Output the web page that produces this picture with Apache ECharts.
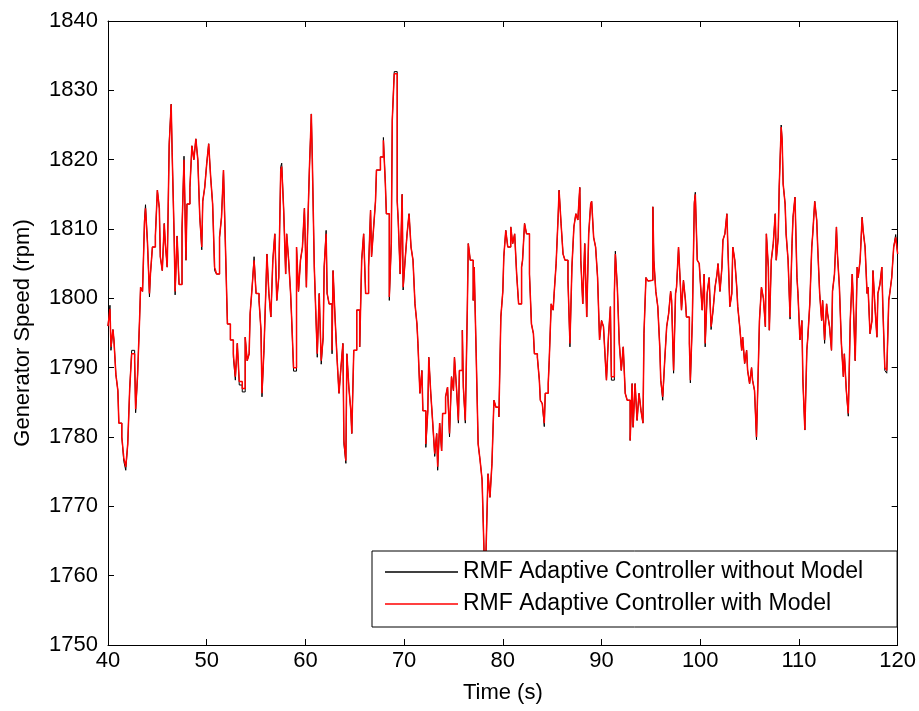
<!DOCTYPE html>
<html>
<head>
<meta charset="utf-8">
<script src="https://cdn.jsdelivr.net/npm/echarts@6/dist/echarts.min.js"></script>
<style>
html,body{margin:0;padding:0;background:#fff;}
#chart{width:919px;height:711px;}
</style>
</head>
<body>
<div id="chart"></div>
<script>
const xTicks = [40, 50, 60, 70, 80, 90, 100, 110, 120];
const yTicks = [1750, 1760, 1770, 1780, 1790, 1800, 1810, 1820, 1830, 1840];
const seriesNames = ['RMF Adaptive Controller without Model', 'RMF Adaptive Controller with Model'];

const time = [
40.0,40.2,40.3,40.5,40.6,40.8,41.0,41.1,41.4,41.6,41.8,42.0,42.2,42.4,42.7,42.8,43.0,43.2,43.3,43.5,
43.7,43.8,44.0,44.2,44.3,44.5,44.8,45.0,45.2,45.3,45.5,45.7,45.8,46.0,46.2,46.4,46.5,46.7,46.8,47.0,
47.2,47.5,47.7,47.9,48.0,48.3,48.5,48.7,48.9,49.1,49.3,49.5,49.6,49.8,50.0,50.2,50.4,50.6,50.8,51.0,
51.3,51.5,51.7,51.9,52.1,52.4,52.7,52.9,53.1,53.3,53.6,53.9,54.1,54.3,54.4,54.6,54.8,55.0,55.3,55.5,
55.6,55.8,56.0,56.1,56.3,56.5,56.7,56.9,57.1,57.3,57.5,57.6,57.8,58.0,58.1,58.3,58.5,58.6,58.8,59.1,
59.3,59.5,59.7,59.9,60.1,60.2,60.4,60.6,60.7,60.9,61.1,61.2,61.4,61.6,61.8,61.9,62.1,62.2,62.4,62.7,
62.8,63.0,63.2,63.4,63.6,63.8,63.9,64.1,64.2,64.4,64.6,64.7,64.9,65.2,65.5,65.7,65.9,66.1,66.4,66.6,
66.7,66.9,67.1,67.2,67.6,67.9,68.1,68.2,68.5,68.7,68.8,69.0,69.3,69.4,69.6,69.8,69.9,70.1,70.3,70.5,
70.7,70.9,71.1,71.3,71.4,71.6,71.8,71.9,72.2,72.4,72.5,72.7,72.9,73.1,73.3,73.4,73.6,73.8,73.9,74.2,
74.4,74.6,74.8,75.0,75.1,75.3,75.5,75.6,75.9,76.0,76.2,76.4,76.5,76.7,77.0,77.1,77.3,77.5,77.7,77.9,
78.1,78.3,78.5,78.7,78.9,79.1,79.3,79.6,79.8,80.0,80.1,80.3,80.5,80.8,81.0,81.2,81.4,81.6,81.9,82.0,
82.2,82.4,82.7,82.9,83.1,83.2,83.5,83.7,83.8,84.0,84.2,84.3,84.6,84.7,84.9,85.1,85.2,85.4,85.6,85.7,
85.9,86.1,86.3,86.6,86.8,87.0,87.2,87.4,87.6,87.8,87.9,88.1,88.3,88.5,88.7,88.9,89.0,89.2,89.4,89.6,
89.8,90.0,90.2,90.4,90.5,90.7,90.9,91.0,91.3,91.4,91.6,91.8,92.0,92.2,92.4,92.6,92.9,93.1,93.2,93.4,
93.6,93.8,94.0,94.2,94.3,94.5,94.7,94.9,95.2,95.3,95.5,95.7,95.9,96.0,96.2,96.4,96.6,96.8,97.0,97.1,
97.3,97.5,97.6,97.8,98.0,98.1,98.3,98.5,98.6,98.9,99.0,99.2,99.4,99.5,99.7,99.9,100.0,100.2,100.4,100.5,
100.7,100.9,101.1,101.3,101.5,101.7,101.8,102.0,102.2,102.3,102.5,102.7,102.8,103.0,103.2,103.3,103.5,103.7,103.8,104.0,
104.2,104.3,104.5,104.7,104.8,105.0,105.2,105.3,105.5,105.7,105.9,106.0,106.2,106.4,106.6,106.7,106.9,107.0,107.2,107.4,
107.6,107.7,107.9,108.0,108.2,108.3,108.4,108.6,108.7,108.9,109.1,109.3,109.4,109.6,109.8,109.9,110.1,110.3,110.4,110.6,
110.8,110.9,111.1,111.3,111.4,111.6,111.8,111.9,112.1,112.3,112.4,112.6,112.8,112.9,113.1,113.3,113.4,113.6,113.8,113.9,
114.1,114.3,114.5,114.6,114.8,115.0,115.2,115.4,115.5,115.7,115.9,116.0,116.2,116.4,116.5,116.7,116.9,117.0,117.2,117.4,
117.5,117.7,117.9,118.0,118.2,118.4,118.5,118.7,118.9,119.1,119.2,119.4,119.6,119.8,120.0
];

const withModel = [
1796,1798.5,1793,1795.5,1794,1789,1786.7,1782,1780,1777,1775.7,1779,1787,1792,1791,1784,1789,1797,1801.6,1801,
1811,1813,1808,1800.7,1803.5,1807.4,1809,1815.6,1813,1806,1804,1810.8,1808,1804.5,1822,1828,1821,1809,1801,1809,
1802,1810,1820,1805.5,1813.6,1816,1822,1820,1823,1820,1811.7,1807.4,1814,1816,1819.4,1822.3,1817.5,1813.6,1804.5,1803.5,
1808.8,1811.7,1818.5,1807.4,1796.3,1794,1792,1788.7,1793.5,1788,1787,1794.4,1791,1792,1797.8,1801.6,1805.5,1800.7,1799.7,1795.4,
1786.3,1792.5,1801.6,1806.4,1800.7,1797.3,1805.5,1809.3,1799.7,1803,1818.5,1819,1812.7,1803.5,1809.3,1805.5,1800.7,1797.3,1790,1807.4,
1801,1805.5,1807.4,1813,1801.6,1808.4,1818.5,1826.6,1820,1804.5,1795.9,1792,1800.7,1791,1794.4,1804.5,1809.3,1800.7,1799.2,1792.5,
1804,1797.3,1791.5,1786.3,1790,1793.5,1779.5,1776.6,1792,1787.2,1783.8,1780.5,1792.5,1798.3,1793,1805.5,1809.3,1800.7,1804.5,1812.7,
1806,1810,1814,1818.5,1820.4,1822.8,1816.5,1812.2,1800.2,1807.9,1825.7,1832.4,1814,1811.3,1803.5,1815,1801.6,1805.5,1809.3,1812.2,
1807.4,1805.5,1799.2,1796.3,1793.5,1786.3,1789.6,1783.8,1779,1783.8,1791.5,1786.3,1782,1777.6,1780.5,1775.7,1782,1778,1783.4,1785.8,
1787.2,1780.5,1788.7,1786.7,1791.5,1787.2,1782.4,1789.6,1795.4,1787.2,1782.4,1798.3,1807.9,1805.5,1799.7,1804.5,1792,1779,1776.6,1773.8,
1763.2,1763.6,1774.7,1771.3,1776.2,1785.3,1784.3,1782.9,1797.3,1801,1806,1809.8,1807.4,1810.3,1807.9,1809.3,1803.5,1799.2,1804.5,1805.5,
1810.8,1809.3,1803.5,1796.3,1794.9,1792,1791.5,1788.2,1785.3,1784.8,1782,1786.3,1787.7,1791,1799.2,1798.3,1800.7,1805,1811.7,1815.6,
1810.8,1806.4,1805.5,1802.6,1793.5,1804.5,1810.3,1812.2,1811.3,1816,1805.5,1799.2,1807.9,1797.3,1809.3,1813.6,1814,1808.8,1807.4,1803,
1794,1796.8,1795.9,1790.6,1788.2,1794.4,1798.8,1788.7,1800.7,1806.4,1801.6,1793.5,1789.6,1793,1786.3,1785.3,1779.5,1787.7,1781.4,1787.7,
1782.4,1786.3,1783.8,1782,1794.9,1803,1802.5,1802.6,1813.2,1805.5,1801,1798.8,1793,1788.2,1785.8,1791,1795.9,1797.8,1801,1799.7,
1789.6,1800.7,1801.6,1807.4,1801.6,1798.3,1802.6,1799.7,1797.3,1793.5,1788.2,1796.8,1813.6,1815,1805.5,1805,1802.6,1798.3,1803.5,1793.5,
1800.7,1803,1795.9,1798.3,1801.6,1803.5,1805,1801,1804.5,1808.4,1809.3,1812.2,1807.4,1798.8,1800.7,1807.4,1805.5,1801.6,1798.8,1795.9,
1792.5,1794.4,1790.6,1792.5,1789.6,1787.7,1790,1788.2,1786.7,1780,1791,1796.8,1801.6,1800,1795.9,1809.3,1804.5,1795.4,1805.5,1807.9,
1812.2,1805.5,1808.8,1816,1824.7,1822.8,1816.5,1813.6,1809.3,1805.5,1797.3,1807.9,1811.7,1814.6,1803,1800.7,1794,1796.8,1788.2,1781,
1792.5,1794.4,1799.2,1807.4,1809.3,1814,1811.3,1807.4,1800.7,1796.8,1799.7,1794,1799.2,1797.8,1795.9,1792.5,1801,1803.5,1810.3,1806.4,
1801.6,1793.5,1788.7,1792,1786.7,1783.4,1796.8,1803.5,1799.7,1791,1804.5,1803,1805.5,1811.7,1809.8,1807.4,1800.7,1801.6,1794.9,1796.8,
1804,1798.8,1794.4,1800.7,1802,1804.5,1798.8,1790,1789.6,1799.7,1800.7,1803,1807.4,1808.8,1806.4
];

const withoutModel = [
1796,1799,1792.5,1795.5,1794,1789,1786.7,1782,1780,1776.5,1775.2,1779,1787,1792.5,1791,1783.5,1789,1797,1801.6,1801,
1811.5,1813.5,1808,1800.2,1803.5,1807.4,1809,1815.6,1813,1806,1804,1810.8,1808,1804.5,1822.5,1828,1821,1809,1800.5,1809,
1802,1810,1820.5,1805.5,1813.6,1816,1822,1820,1823,1820,1811.7,1807,1814,1816,1819.4,1822.3,1817.5,1813.6,1804,1803.5,
1808.8,1811.7,1818.5,1807.4,1796.3,1794,1791.5,1788.2,1793.5,1787.5,1786.5,1794.4,1791,1792,1797.8,1801.6,1806,1800.7,1799.7,1795.4,
1785.8,1792.5,1801.6,1806.4,1800.7,1797.3,1805.5,1809.3,1799.7,1803,1819,1819.5,1812.7,1803.5,1809.3,1805.5,1800.7,1797.3,1789.5,1807.4,
1801,1805.5,1807.4,1813,1801.6,1808.4,1818.5,1826.6,1820,1804.5,1795.9,1791.5,1800.7,1790.5,1794.4,1804.5,1809.8,1800.7,1799.2,1792,
1804,1797.3,1791.5,1786.3,1790,1793.5,1779,1776.2,1792,1787.2,1783.8,1780.5,1792.5,1798.3,1793,1805.5,1809.3,1800.7,1804.5,1812.7,
1806,1810,1814,1818.5,1820.4,1823.2,1816.5,1812.2,1799.7,1807.9,1825.7,1832.7,1814,1811.3,1803.5,1815,1801.2,1805.5,1809.3,1812.2,
1807.4,1805.5,1799.2,1796.3,1793.5,1786.3,1789.6,1783.8,1778.5,1783.8,1791.5,1786.3,1782,1777.2,1780.5,1775.2,1782,1778,1783.4,1785.8,
1787.2,1780,1788.7,1786.7,1791.5,1787.2,1782,1789.6,1795.4,1787.2,1782,1798.3,1807.9,1805.5,1799.7,1804.5,1792,1779,1776.6,1773.8,
1763.2,1763.6,1774.7,1771.3,1776.2,1785.3,1784.3,1782.9,1797.3,1801,1806,1809.8,1807.4,1810.3,1807.9,1809.3,1803.5,1799.2,1804.5,1805.5,
1810.8,1809.3,1803.5,1796.3,1794.9,1792,1791.5,1788.2,1785.3,1784.8,1781.5,1786.3,1787.7,1791,1799.2,1798.3,1800.7,1805,1811.7,1815.6,
1810.8,1806.4,1805.5,1802.6,1793,1804.5,1810.3,1812.2,1811.3,1816,1805.5,1799.2,1807.9,1797.3,1809.3,1813.6,1814,1808.8,1807.4,1803,
1794,1796.8,1795.9,1790.6,1788.2,1794.4,1798.8,1788.2,1800.7,1806.8,1801.6,1793.5,1789.6,1793,1786.3,1785.3,1779.5,1787.7,1781.4,1787.7,
1782.4,1786.3,1783.8,1782,1794.9,1803,1802.5,1802.6,1813.2,1805.5,1801,1798.8,1793,1788.2,1785.3,1791,1795.9,1797.8,1801,1799.7,
1789.2,1800.7,1801.6,1807.4,1801.6,1798.3,1802.6,1799.7,1797.3,1793.5,1787.8,1796.8,1813.9,1815.3,1805.5,1805,1802.6,1798.3,1803.5,1793,
1800.7,1803,1795.5,1798.3,1801.6,1803.5,1805,1801,1804.5,1808.4,1809.3,1812.2,1807.4,1798.8,1800.7,1807.4,1805.5,1801.6,1798.8,1795.9,
1792.5,1794.4,1790.6,1792.5,1789.6,1787.7,1790,1788.2,1786.7,1779.6,1791,1796.8,1801.6,1800,1795.9,1809.3,1804.5,1795.4,1805.5,1807.9,
1812.2,1805.5,1808.8,1816,1825,1822.8,1816.5,1813.6,1809.3,1805.5,1797,1807.9,1811.7,1814.6,1803,1800.7,1794,1796.8,1788.2,1781,
1792.5,1794.4,1799.2,1807.4,1809.3,1814,1811.3,1807.4,1800.7,1796.8,1799.7,1793.5,1799.2,1797.8,1795.9,1792.5,1801,1803.5,1810.3,1806.4,
1801.6,1793.5,1788.7,1792,1786.7,1783,1796.8,1803.5,1799.7,1791,1804.5,1803,1805.5,1811.7,1809.8,1807.4,1800.7,1801.6,1794.9,1796.8,
1804,1798.8,1794.4,1800.7,1802,1804.5,1798.8,1789.6,1789.2,1799.7,1800.7,1803,1807.4,1809.2,1806.4
];

const FONT = '"Liberation Sans", Arial, sans-serif';
const chart = echarts.init(document.getElementById('chart'), null, {renderer: 'canvas'});

const tickCommon = {show: true, inside: true, length: 6, lineStyle: {color: '#000', width: 1}};
const lineCommon = {show: true, onZero: false, lineStyle: {color: '#000', width: 1}};
const plain = v => String(v);

chart.setOption({
  animation: false,
  backgroundColor: '#fff',
  grid: {left: 108, right: 17, top: 21, bottom: 66, containLabel: false},
  xAxis: [{
    type: 'value', min: xTicks[0], max: xTicks[xTicks.length - 1], interval: 10,
    position: 'bottom',
    name: 'Time (s)', nameLocation: 'middle', nameGap: 37,
    nameTextStyle: {fontFamily: FONT, fontSize: 22, color: '#000'},
    axisLine: lineCommon, axisTick: tickCommon,
    axisLabel: {fontFamily: FONT, fontSize: 22, color: '#000', margin: 5, formatter: plain},
    splitLine: {show: false}
  }, {
    type: 'value', min: xTicks[0], max: xTicks[xTicks.length - 1], interval: 10,
    position: 'top',
    axisLine: lineCommon, axisTick: tickCommon,
    axisLabel: {show: false}, splitLine: {show: false}
  }],
  yAxis: [{
    type: 'value', min: yTicks[0], max: yTicks[yTicks.length - 1], interval: 10,
    position: 'left',
    name: 'Generator Speed (rpm)', nameLocation: 'middle', nameGap: 74,
    nameTextStyle: {fontFamily: FONT, fontSize: 22, color: '#000'},
    axisLine: lineCommon, axisTick: tickCommon,
    axisLabel: {fontFamily: FONT, fontSize: 22, color: '#000', margin: 10, formatter: plain},
    splitLine: {show: false}
  }, {
    type: 'value', min: yTicks[0], max: yTicks[yTicks.length - 1], interval: 10,
    position: 'right',
    axisLine: lineCommon, axisTick: tickCommon,
    axisLabel: {show: false}, splitLine: {show: false}
  }],
  legend: {
    orient: 'vertical',
    left: 372, top: 551,
    padding: [9, 34, 11, 13],
    icon: 'rect',
    itemWidth: 73, itemHeight: 1.5, itemGap: 8,
    backgroundColor: '#fff',
    borderColor: '#000', borderWidth: 1,
    textStyle: {fontFamily: FONT, fontSize: 23, color: '#000', lineHeight: 24},
    data: seriesNames
  },
  series: [{
    name: seriesNames[0], type: 'line', step: 'end',
    xAxisIndex: 0, yAxisIndex: 0,
    showSymbol: false, symbol: 'none',
    lineStyle: {color: '#000', width: 1},
    itemStyle: {color: '#000'},
    data: time.map((t, i) => [t, withoutModel[i]]),
    z: 2
  }, {
    name: seriesNames[1], type: 'line', step: 'end',
    xAxisIndex: 0, yAxisIndex: 0,
    showSymbol: false, symbol: 'none',
    lineStyle: {color: '#ff0000', width: 1.5},
    itemStyle: {color: '#ff0000'},
    data: time.map((t, i) => [t, withModel[i]]),
    z: 3
  }]
});
</script>
</body>
</html>
